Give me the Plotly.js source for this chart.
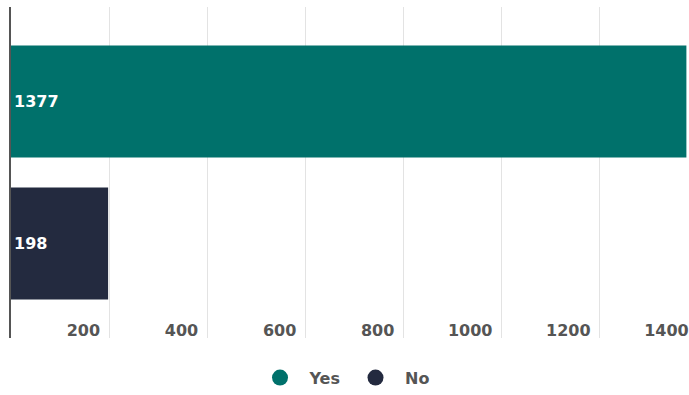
<!DOCTYPE html>
<html>
<head>
<meta charset="utf-8">
<script src="https://cdn.plot.ly/plotly-3.0.1.min.js"></script>
<style>
html,body{margin:0;padding:0;overflow:hidden;background:#fff;width:689px;height:395px;}
#chart{width:707px;height:395px;}
</style>
</head>
<body>
<div id="chart"></div>
<script>
const categories = ['Yes', 'No'];
const values = [1377, 198];
const colors = ['#00716b', '#232a3f'];
const tickVals = [200, 400, 600, 800, 1000, 1200, 1400];
const tickText = ['200', '400', '600', '800', '1000', '1200', '1400'];

const traces = [];
categories.forEach((c, i) => {
  traces.push({
    type: 'bar',
    orientation: 'h',
    name: c,
    x: [values[i]],
    y: [c],
    width: 0.79,
    marker: {color: colors[i]},
    text: [String(values[i])],
    textposition: 'inside',
    insidetextanchor: 'start',
    textangle: 0,
    textfont: {family: 'DejaVu Sans', size: 16, color: '#ffffff', weight: 700},
    showlegend: false,
    hoverinfo: 'x'
  });
});
categories.forEach((c, i) => {
  traces.push({
    type: 'scatter',
    mode: 'markers',
    name: c,
    x: [null],
    y: [null],
    marker: {color: colors[i], size: 22, symbol: 'circle'},
    showlegend: true
  });
});

const layout = {
  width: 707,
  height: 395,
  margin: {l: 11, r: 0, t: 7, b: 53},
  paper_bgcolor: '#ffffff',
  plot_bgcolor: '#ffffff',
  barmode: 'overlay',
  showlegend: true,
  legend: {
    orientation: 'h',
    x: 0.4763, xanchor: 'center',
    y: -0.12, yanchor: 'middle',
    itemwidth: 49,
    font: {family: 'DejaVu Sans', size: 16, color: '#555555', weight: 700},
    itemsizing: 'trace'
  },
  xaxis: {
    range: [0, 1419],
    tickvals: tickVals,
    ticktext: tickText,
    ticks: '',
    ticklabelposition: 'inside left',
    ticklabelshift: -9,
    ticklabelstandoff: -7,
    tickfont: {family: 'DejaVu Sans', size: 16, color: '#555555', weight: 700},
    showgrid: true,
    gridcolor: '#e3e3e3',
    gridwidth: 1,
    zeroline: false,
    showline: false
  },
  yaxis: {
    type: 'category',
    categoryorder: 'array',
    categoryarray: categories,
    range: [1.667, -0.667],
    showticklabels: false,
    ticks: '',
    showgrid: false,
    zeroline: false,
    showline: true,
    linecolor: '#555555',
    linewidth: 2
  }
};

Plotly.newPlot('chart', traces, layout, {displayModeBar: false, staticPlot: true});
</script>
</body>
</html>
